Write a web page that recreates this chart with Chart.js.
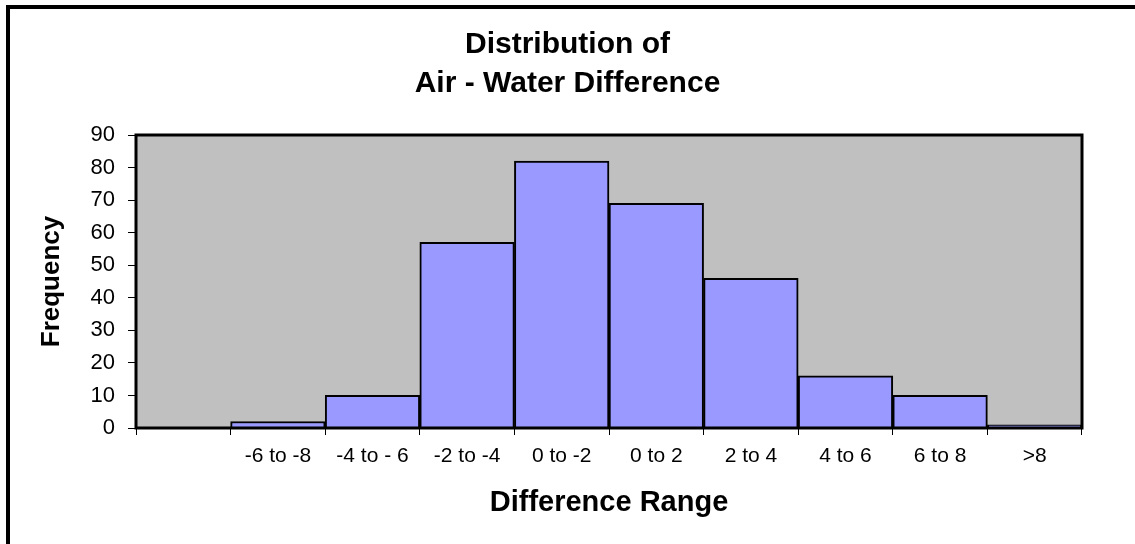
<!DOCTYPE html>
<html>
<head>
<meta charset="utf-8">
<title>Distribution of Air - Water Difference</title>
<script src="https://cdn.jsdelivr.net/npm/chart.js@4/dist/chart.umd.min.js"></script>
<style>
    html, body { margin: 0; padding: 0; background: #fff; }
    #wrap { position: relative; width: 1135px; height: 544px; }
</style>
</head>
<body>
<div id="wrap"><canvas id="histChart"></canvas></div>
<script>
// bins of the air - water difference (first bin has no label in the source)
const categories = ['', '-6 to -8', '-4 to - 6', '-2 to -4', '0 to -2', '0 to 2', '2 to 4', '4 to 6', '6 to 8', '>8'];
const frequency = [0, 2, 10, 57, 82, 69, 46, 16, 10, 1];
const yTicks = [0, 10, 20, 30, 40, 50, 60, 70, 80, 90];

const FONT = "'Liberation Sans', Arial, sans-serif";

// gray plot background, page frame and plot frame
const framePlugin = {
    id: 'frame',
    beforeDraw(chart) {
        const { ctx, chartArea: a } = chart;
        ctx.save();
        ctx.fillStyle = '#000';
        ctx.fillRect(6, 5, 4, chart.height);
        ctx.fillRect(6, 5, chart.width, 4);
        ctx.fillStyle = '#C0C0C0';
        ctx.fillRect(a.left, a.top, a.right - a.left, a.bottom - a.top);
        ctx.restore();
    },
    afterDatasetsDraw(chart) {
        const { ctx, chartArea: a } = chart;
        ctx.save();
        ctx.strokeStyle = '#000';
        ctx.lineWidth = 3;
        ctx.strokeRect(a.left, a.top, a.right - a.left, a.bottom - a.top);
        ctx.restore();
    }
};

new Chart(document.getElementById('histChart'), {
    type: 'bar',
    data: {
        labels: categories,
        datasets: [{
            data: frequency,
            backgroundColor: '#9999FF',
            borderColor: '#000',
            borderWidth: 2,
            categoryPercentage: 1,
            barPercentage: 1
        }]
    },
    options: {
        responsive: true,
        maintainAspectRatio: false,
        animation: false,
        layout: { padding: 0 },
        plugins: {
            legend: { display: false },
            tooltip: { enabled: false },
            title: {
                display: true,
                text: ['Distribution of', 'Air - Water Difference'],
                color: '#000',
                font: { family: FONT, size: 30, weight: 'bold', lineHeight: 1.3 },
                padding: { top: 25, bottom: 32 }
            }
        },
        scales: {
            x: {
                grid: {
                    offset: true,
                    drawOnChartArea: false,
                    tickLength: 7,
                    color: '#000',
                    lineWidth: 1
                },
                border: { display: false },
                ticks: {
                    color: '#000',
                    padding: 9,
                    maxRotation: 0,
                    autoSkip: false,
                    font: { family: FONT, size: 21 }
                },
                title: {
                    display: true,
                    text: 'Difference Range',
                    color: '#000',
                    font: { family: FONT, size: 29, weight: 'bold' },
                    padding: { top: 0, bottom: 24 }
                },
                afterFit(scale) { scale.height = 116; }
            },
            y: {
                min: 0,
                max: 90,
                afterBuildTicks(scale) { scale.ticks = yTicks.map(v => ({ value: v })); },
                grid: {
                    drawOnChartArea: false,
                    tickLength: 8,
                    color: '#000',
                    lineWidth: 1
                },
                border: { display: false },
                ticks: {
                    color: '#000',
                    padding: 13,
                    font: { family: FONT, size: 22 }
                },
                title: {
                    display: true,
                    text: 'Frequency',
                    color: '#000',
                    font: { family: FONT, size: 26, weight: 'bold' },
                    padding: { top: 36, bottom: 0 }
                },
                afterFit(scale) { scale.width = 136; }
            },
            // empty right-hand axis that only reserves the white margin
            yRight: {
                position: 'right',
                display: true,
                grid: { display: false },
                border: { display: false },
                ticks: { display: false },
                afterFit(scale) { scale.width = 53; }
            }
        }
    },
    plugins: [framePlugin]
});
</script>
</body>
</html>
